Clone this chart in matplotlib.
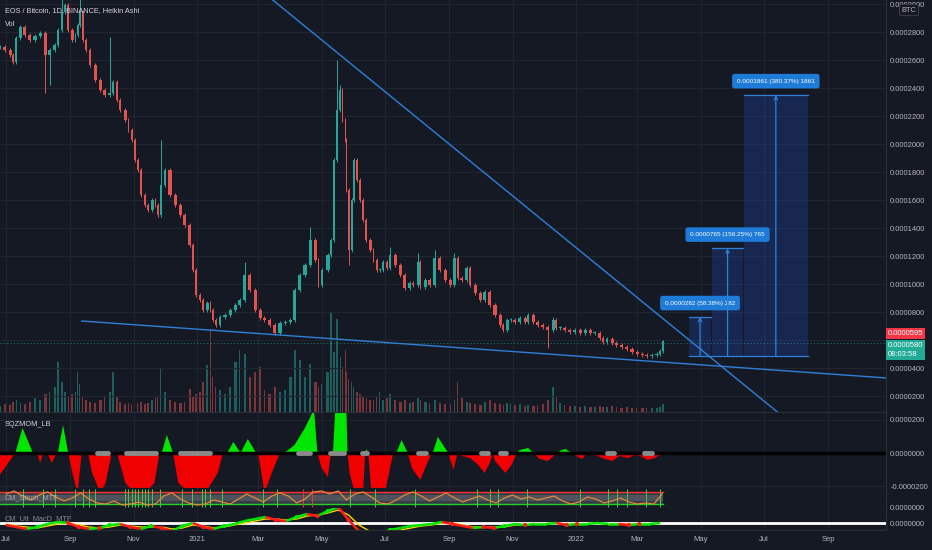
import matplotlib
matplotlib.use("Agg")
import matplotlib.pyplot as plt
from matplotlib.collections import LineCollection
from matplotlib.patches import Rectangle
import numpy as np
import pandas as pd

plt.rcParams['font.family'] = ['Liberation Sans', 'DejaVu Sans']

# x = days since 2020-07-01, prices in units of 0.0000001 BTC
day = [-6, -1, 4, 7, 10, 14, 18, 23, 28, 33,
       38, 42, 47, 50, 54, 57, 60, 64, 67, 69,
       71, 74, 77, 81, 86, 91, 95, 100, 103, 107,
       110, 115, 118, 121, 124, 127, 130, 134, 137, 141,
       144, 146, 149, 153, 158, 163, 168, 172, 177, 180,
       183, 187, 190, 194, 197, 199, 202, 206, 211, 216,
       221, 225, 230, 235, 240, 245, 249, 254, 259, 264,
       269, 274, 278, 283, 288, 293, 298, 301, 304, 310,
       313, 316, 319, 322, 324, 327, 328, 330, 333, 335,
       338, 341, 344, 347, 351, 354, 357, 360, 363, 367,
       370, 375, 380, 384, 389, 392, 397, 399, 404, 408,
       413, 418, 423, 428, 432, 435, 439, 444, 447, 452,
       457, 461, 466, 471, 476, 479, 483, 486, 490, 495,
       500, 503, 508, 512, 517, 522, 527, 530, 534, 538,
       543, 548, 553, 558, 563, 567, 572, 575, 579, 584,
       588, 593, 598, 603, 608, 613, 617, 622, 627, 630,
       633]
close = [2693, 2671, 2636, 2586, 2757, 2836, 2779, 2743, 2771, 2793,
         2636, 2671, 2707, 2814, 2943, 2993, 2814, 2743, 2779, 2850,
         2943, 2743, 2671, 2564, 2457, 2386, 2350, 2364, 2443, 2314,
         2243, 2171, 2100, 2029, 1886, 1814, 1636, 1564, 1529, 1600,
         1564, 1493, 1707, 1814, 1636, 1564, 1493, 1421, 1279, 1100,
         921, 886, 814, 864, 814, 743, 707, 764, 779, 814,
         850, 886, 1064, 957, 814, 757, 743, 707, 650, 721,
         729, 743, 957, 1064, 1136, 1314, 1171, 993, 1100, 1207,
         1314, 1886, 2243, 2386, 2171, 2029, 1671, 1243, 1600, 1886,
         1743, 1600, 1457, 1314, 1243, 1171, 1100, 1100, 1157, 1114,
         1207, 1136, 1064, 971, 1007, 993, 1157, 979, 1029, 993,
         1186, 1100, 1029, 993, 1186, 1043, 1029, 1114, 993, 936,
         886, 943, 850, 779, 707, 671, 743, 743, 729, 757,
         729, 779, 729, 707, 693, 671, 743, 686, 686, 671,
         657, 671, 650, 671, 650, 650, 614, 586, 607, 579,
         564, 550, 536, 514, 500, 493, 486, 493, 500, 521,
         590]
vol = [6, 8, 7, 10, 12, 9, 8, 10, 14, 12,
       18, 20, 25, 50, 30, 20, 15, 18, 20, 40,
       28, 15, 12, 10, 9, 12, 15, 20, 40, 15,
       10, 8, 9, 8, 10, 9, 10, 8, 9, 12,
       14, 16, 43, 20, 12, 10, 9, 10, 23, 15,
       18, 20, 30, 47, 83, 35, 25, 22, 18, 25,
       50, 62, 58, 35, 40, 45, 22, 18, 25, 20,
       22, 35, 62, 52, 35, 48, 30, 25, 28, 40,
       100, 60, 93, 55, 45, 62, 40, 33, 30, 25,
       20, 18, 15, 14, 12, 12, 15, 20, 12, 14,
       18, 12, 10, 12, 9, 10, 14, 12, 10, 9,
       12, 9, 8, 8, 12, 30, 14, 10, 9, 8,
       7, 10, 12, 9, 8, 7, 9, 8, 7, 8,
       6, 7, 6, 7, 8, 12, 25, 15, 9, 7,
       6, 6, 5, 6, 5, 5, 6, 5, 5, 6,
       5, 4, 5, 4, 4, 4, 4, 4, 4, 5,
       8]
hi_day = [54, 71, 100, 149, 230, 293, 319, 322, 370, 397, 413, 432, 527]
hi_val = [3100, 3050, 2764, 2029, 1157, 1407, 2600, 2420, 1264, 1221, 1243, 1221, 764]
lo_day = [38, 42, 330, 522]
lo_val = [2364, 2421, 1136, 543]

last_close = 580
last_real = 595
countdown = "08:03:58"

# axis labels that are not hidden behind the last-price tags
price_ticks = [200, 400, 800, 1000, 1200, 1400, 1600, 1800, 2000, 2200, 2400, 2600, 2800, 3000]

upper_line_day = [257, 743]
upper_line_val = [3029, 86]
lower_line_day = [73, 848]
lower_line_val = [736, 329]

measure_start = [658, 680, 711]
measure_end = [679, 710, 772]
measure_base = [483, 489, 489]
measure_delta = [282, 765, 1861]
measure_pct = [58.38, 156.25, 380.37]

sqz_day = [-6, 9, 16, 26, 30, 33, 36, 40, 44, 49, 50, 55, 60, 64, 69, 73, 79, 83, 91, 96,
           102, 107, 115, 124, 134, 143, 148, 150, 155, 161, 166, 177, 192, 204, 209, 213, 219, 226, 233, 241,
           243, 249, 256, 264, 268, 278, 288, 295, 297, 300, 304, 310, 313, 315, 317, 328, 329, 331, 336, 344,
           346, 347, 349, 352, 365, 373, 376, 381, 387, 391, 399, 410, 411, 416, 426, 429, 431, 435, 439, 447,
           455, 461, 466, 469, 471, 481, 487, 492, 495, 503, 508, 514, 522, 531, 535, 539, 545, 551, 555, 560,
           567, 577, 584, 591, 599, 606, 611, 618, 625, 630, 633]
sqz_val = [-132, 0, 150, 0, 0, -60, 0, 0, -60, 0, 0, 168, 0, -120, -240, 0, 0, -120, -240, -180,
           0, 0, -180, -240, -240, -180, 0, 0, 108, 0, -180, -240, -240, -120, 0, 0, 66, 0, 84, 0,
           0, -240, -120, 0, 0, 48, 150, 240, 240, 0, -90, -144, 0, 0, 240, 240, 0, -120, -240, -240,
           0, 24, 0, -240, -240, 0, 0, 78, 0, -90, -162, 0, 0, 96, 0, -60, -102, 0, -18, -30,
           -72, -120, -60, 0, -48, -120, -72, 0, 18, 30, 0, -36, -48, 0, 18, 24, 0, -24, -36, 0,
           -12, -36, -48, -18, -30, -12, -18, -42, -30, -12, 6]
squeeze_off = [(88, 98), (116, 145), (168, 197), (281, 293), (312, 326), (343, 348),
               (397, 405), (458, 464), (476, 482), (579, 586), (615, 622)]

stoch_day = np.arange(0, 640, 8)
stoch_k = [70, 85, 60, 40, 65, 80, 55, 35, 50, 75,
           45, 25, 20, 35, 15, 20, 30, 15, 20, 60,
           75, 45, 25, 15, 20, 40, 30, 20, 45, 70,
           50, 30, 60, 75, 60, 25, 45, 80, 85, 70,
           85, 40, 70, 80, 55, 25, 20, 40, 65, 80,
           60, 35, 55, 75, 50, 30, 45, 60, 40, 25,
           50, 65, 45, 55, 40, 50, 60, 35, 20, 30,
           55, 45, 25, 35, 50, 30, 20, 25, 20, 70]
stoch_cross = [16, 36, 47, 67, 74, 80, 86, 115, 118, 121, 124, 127, 131, 134, 137, 141, 148,
               170, 179, 189, 192, 197, 208, 248, 261, 331, 355, 394, 454, 466, 474, 502,
               553, 580, 589, 598, 616, 630]
stoch_cross_red = [286, 295]

macd_day = np.arange(0, 640, 10)
macd = [-2, -4, -6, -4, -1, 1, 0, -4, -6, -5, -2, -1, -4, -6, -3, -5, -8, -3, 0, -4,
        -6, -3, -1, 2, 4, 6, 3, 2, 6, 9, 7, 12, 16, 3, -8, -12, -10, -7, -5, -3,
        -2, -1, 1, -1, -3, -5, -4, -5, -3, -1, -2, -1, -1, 0, -2, -1, -1, 0, -1, -1,
        -2, -1, -1, 0]
signal = [-1, -3, -4, -5, -3, -1, 0, -2, -4, -5, -4, -2, -3, -4, -4, -4, -6, -5, -2, -3,
          -5, -4, -2, 0, 2, 4, 4, 3, 4, 7, 8, 10, 13, 8, -2, -8, -10, -9, -7, -5,
          -3, -2, 0, 0, -2, -4, -4, -4, -4, -2, -2, -1, -1, 0, -1, -1, -1, 0, -1, -1,
          -1, -1, -1, 0]

month_dates = ['2020-07-01', '2020-09-01', '2020-11-01', '2021-01-01', '2021-03-01', '2021-05-01',
               '2021-07-01', '2021-09-01', '2021-11-01', '2022-01-01', '2022-03-01', '2022-05-01',
               '2022-07-01', '2022-09-01']
month_labels = ['Jul', 'Sep', 'Nov', '2021', 'Mar', 'May', 'Jul', 'Sep', 'Nov', '2022', 'Mar', 'May', 'Jul', 'Sep']

# ---- style
BG = '#151924'
GRID = '#212530'
SEP = '#2a2e39'
TXT = '#b2b5be'
UP = '#26a69a'
DOWN = '#e2534f'
BLUE = '#2f80d8'
W, H = 932, 550
X0, X1 = -5.7, 847.6


def fmt(v):
    return f"{v * 1e-7:.7f}"


fig = plt.figure(figsize=(W / 100, H / 100), dpi=100, facecolor=BG)


def px_axes(x0, y0, x1, y1):
    a = fig.add_axes([x0 / W, 1 - y1 / H, (x1 - x0) / W, (y1 - y0) / H])
    a.set_facecolor(BG)
    a.set_xlim(X0, X1)
    for s in a.spines.values():
        s.set_visible(False)
    a.spines['right'].set_visible(True)
    a.spines['right'].set_color(SEP)
    a.spines['bottom'].set_visible(True)
    a.spines['bottom'].set_color(SEP)
    return a


def right_ticks(a):
    a.yaxis.tick_right()
    a.tick_params(axis='both', length=0, labelsize=5.5, labelcolor=TXT, pad=3)


def ftext(x, y, s, **kw):
    fig.text(x / W, 1 - y / H, s, **kw)


month_pos = (pd.to_datetime(month_dates) - pd.Timestamp('2020-07-01')).days.values

ax = px_axes(0, 0, 886, 412)
ax_sqz = px_axes(0, 412, 886, 488)
ax_sto = px_axes(0, 488, 886, 508)
ax_mac = px_axes(0, 508, 886, 530)

# ---- main price panel
day_a = np.array(day)
close_a = np.array(close, dtype=float)
open_a = np.r_[close_a[0], close_a[:-1]]
up = close_a >= open_a
cols = np.where(up, UP, DOWN)
gap = np.r_[5, np.diff(day_a)]
high = np.maximum(open_a, close_a) + 12
low = np.minimum(open_a, close_a) - 12
for d, v in zip(hi_day, hi_val):
    high[day_a == d] = v
for d, v in zip(lo_day, lo_val):
    low[day_a == d] = v

axv = ax.twinx()
axv.set_ylim(0, 412)
axv.set_yticks([])
for s in axv.spines.values():
    s.set_visible(False)
axv.bar(day_a, vol, width=gap * 0.45, color=cols, alpha=0.5, linewidth=0)
ax.set_zorder(axv.get_zorder() + 1)
ax.patch.set_visible(False)
axv.set_facecolor(BG)

for a in (ax, ax_sqz, ax_sto, ax_mac):
    right_ticks(a)
    a.set_xticks(month_pos)
    a.tick_params(axis='x', labelbottom=False)
    a.grid(True, color=GRID, lw=0.8)
    a.set_axisbelow(True)

ax.set_ylim(86, 3029)
ax.set_yticks(price_ticks)
ax.set_yticklabels([fmt(v) for v in price_ticks])
ax.axhline(600, color=GRID, lw=0.8, zorder=0)

ax.vlines(day_a, low, high, colors=cols, lw=0.7)
ax.bar(day_a, np.maximum(np.abs(close_a - open_a), 10), bottom=np.minimum(open_a, close_a),
       width=gap * 0.6, color=cols, linewidth=0)

ax.plot(upper_line_day, upper_line_val, color=BLUE, lw=1)
ax.plot(lower_line_day, lower_line_val, color=BLUE, lw=1)
ax.axhline(last_close, color=UP, lw=0.8, ls=(0, (1, 2)), alpha=0.6)

for s, e, b, dlt, pct in zip(measure_start, measure_end, measure_base, measure_delta, measure_pct):
    ax.add_patch(Rectangle((s, b), e - s, dlt, facecolor='#2962ff', alpha=0.2, edgecolor='none'))
    ax.plot([s, e], [b, b], color=BLUE, lw=0.9)
    ax.plot([s, e], [b + dlt, b + dlt], color=BLUE, lw=0.9)
    c = (s + e) / 2
    ax.annotate('', xy=(c, b + dlt), xytext=(c, b),
                arrowprops=dict(arrowstyle='->', color=BLUE, lw=0.9, shrinkA=0, shrinkB=0,
                                mutation_scale=6))
    ax.annotate(f"{fmt(dlt)} ({pct:.2f}%) {dlt}", xy=(c, b + dlt), xytext=(0, 10),
                textcoords='offset points', ha='center', va='center', fontsize=4.6, color='white',
                bbox=dict(boxstyle='round,pad=0.75,rounding_size=0.4', fc='#1e7bd8', ec='none'))

# ---- squeeze momentum
sv = np.array(sqz_val)
ax_sqz.set_ylim(-210, 246)
ax_sqz.fill_between(sqz_day, sv, 0, where=sv >= 0, interpolate=True, color='#00e600', lw=0)
ax_sqz.fill_between(sqz_day, sv, 0, where=sv <= 0, interpolate=True, color='#f00000', lw=0)
ax_sqz.axhline(0, color='black', lw=2.5)
for s, e in squeeze_off:
    ax_sqz.plot([s, e], [0, 0], color='#8a8a8a', lw=3.5, solid_capstyle='round')
ax_sqz.set_yticks([-200, 0, 200])
ax_sqz.set_yticklabels([fmt(v) for v in (-200, 0, 200)])

# ---- stochastic
ax_sto.set_ylim(0, 100)
ax_sto.fill_between([X0, 633], 20, 80, color='#787b86', alpha=0.35, lw=0)
ax_sto.fill_between([X0, 633], 35, 65, color='#9598a1', alpha=0.25, lw=0)
ax_sto.plot([X0, 633], [80, 80], color='#ff3030', lw=1)
ax_sto.plot([X0, 633], [20, 20], color='#22d02a', lw=1)
ax_sto.vlines(stoch_cross, 4, 96, color='#3fcf3f', lw=0.7)
ax_sto.vlines(stoch_cross_red, 4, 96, color='#ff3030', lw=0.7)
ax_sto.plot(stoch_day, stoch_k, color='#e08a3c', lw=0.9)
ax_sto.set_yticks([0])
ax_sto.set_yticklabels([fmt(0)])

# ---- ultimate macd
m = np.array(macd, dtype=float)
sg = np.array(signal, dtype=float)
ax_mac.set_ylim(-7, 15)
ax_mac.axhline(0, color='white', lw=2)
segs = [[(macd_day[i], m[i]), (macd_day[i + 1], m[i + 1])] for i in range(len(m) - 1)]
seg_cols = ['#00e600' if m[i + 1] >= sg[i + 1] else '#ff1a1a' for i in range(len(m) - 1)]
ax_mac.plot(macd_day, sg, color='#ffd600', lw=1)
ax_mac.add_collection(LineCollection(segs, colors=seg_cols, linewidths=1.8))
dd = np.sign(m - sg)
cx = np.where(np.diff(dd) != 0)[0] + 1
ax_mac.scatter(macd_day[cx], m[cx], s=9, c=['#00e600' if dd[i] > 0 else '#ff1a1a' for i in cx],
               zorder=5, linewidths=0)
ax_mac.set_yticks([0])
ax_mac.set_yticklabels([fmt(0)])
ax_mac.tick_params(axis='x', labelbottom=True, pad=4)
ax_mac.set_xticklabels(month_labels)

# ---- texts and right-side labels
ftext(5, 11, "EOS / Bitcoin, 1D, BINANCE, Heikin Ashi", color='#d1d4dc', fontsize=5.3, va='center')
ftext(5, 24, "Vol", color='#d1d4dc', fontsize=5.3, va='center')
ftext(5, 425, "SQZMOM_LB", color='#d1d4dc', fontsize=5.3, va='center')
ftext(5, 498, "CM_Stoch_MTF", color='#d1d4dc', fontsize=5.3, va='center', alpha=0.6)
ftext(5, 519, "CM_Ult_MacD_MTF", color='#d1d4dc', fontsize=5.3, va='center', alpha=0.6)

ftext(888, 333.5, fmt(last_real), color='white', fontsize=5.5, va='center', ha='left',
      bbox=dict(boxstyle='square,pad=0.25', fc='#f23645', ec='none'))
ftext(888, 350, f"{fmt(last_close)}\n{countdown}", color='white', fontsize=5.5, va='center', ha='left',
      linespacing=1.25, bbox=dict(boxstyle='square,pad=0.25', fc='#22ab94', ec='none'))
ftext(909, 10, "BTC", color=TXT, fontsize=5.3, va='center', ha='center',
      bbox=dict(boxstyle='round,pad=0.3', fc=BG, ec='#434651', lw=0.6))

fig.savefig('out.png', dpi=100, facecolor=BG)
